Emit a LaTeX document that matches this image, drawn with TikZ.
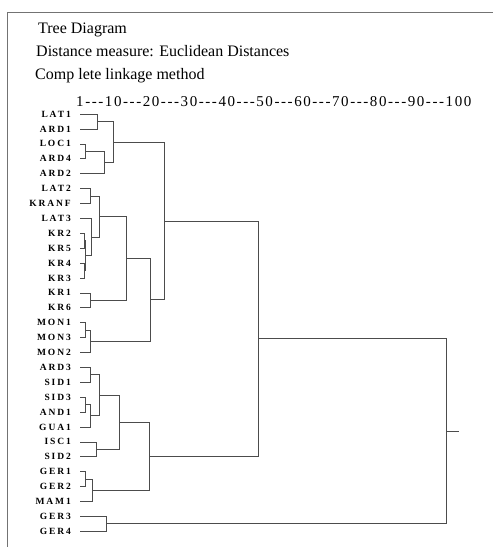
\documentclass[tikz,border=0pt]{standalone}
\usepackage{fontspec}
\setmainfont{Liberation Serif}
\newfontfamily\leaffont{Liberation Serif}[LetterSpace=20]
\newfontfamily\scalefont{Liberation Serif}[LetterSpace=10.5, Ligatures=TeXOff]
\usetikzlibrary{calc,positioning}
\tikzset{
    titletext/.style={
        anchor=base west,
        inner sep=0pt,
        font=\fontsize{16}{19}\selectfont
    },
    scaletext/.style={
        anchor=base west,
        inner sep=0pt,
        font=\scalefont\fontsize{15}{17}\selectfont
    },
    leaflabel/.style={
        inner sep=0pt,
        font=\leaffont\bfseries\fontsize{9.5}{11}\selectfont
    },
    branch/.style={
        draw=black!70,
        line width=0.6pt
    },
    framerule/.style={
        draw=black!55,
        line width=0.8pt
    }
}

\begin{document}
\begin{tikzpicture}[x=1pt, y=-1pt]
    \useasboundingbox (0,0) rectangle (493,547);

    % Frame
    \coordinate (frameTR) at (493,12);
    \coordinate (frameTL) at (7,12);
    \coordinate (frameBL) at (7,547);
    \draw[framerule] (frameTR) -- (frameTL) -- (frameBL);

    % Heading
    \node[titletext] (title)  at (38,33) {Tree Diagram};
    \node[titletext] (measure) at (36,56) {Distance measure: Euclidean Distances};
    \node[titletext] (method) at (35,79) {Comp lete linkage method};
    \node[scaletext] (scale)  at (76,106) {1---10---20---30---40---50---60---70---80---90---100};

    % Leaves
    \foreach \leaf/\txt [count=\i from 0] in {lat1/LAT1, ard1/ARD1, loc1/LOC1, ard4/ARD4, ard2/ARD2,
        lat2/LAT2, kranf/KRANF, lat3/LAT3, kr2/KR2, kr5/KR5, kr4/KR4, kr3/KR3, kr1/KR1, kr6/KR6,
        mon1/MON1, mon3/MON3, mon2/MON2, ard3/ARD3, sid1/SID1, sid3/SID3, and1/AND1, gua1/GUA1,
        isc1/ISC1, sid2/SID2, ger1/GER1, ger2/GER2, mam1/MAM1, ger3/GER3, ger4/GER4}
    {
        \coordinate (\leaf) at (80,114+14.9*\i);
        \node[leaflabel, left=9pt of \leaf] (\leaf-lbl) {\txt};
    }

    % Merges: name / distance / first child / second child
    \foreach \name/\px/\a/\b in {m1/97/lat1/ard1, m2/85/loc1/ard4, m3/104.3/m2/ard2, m4/113.3/m1/m3,
        m5/90.7/lat2/kranf, m6a/84/kr2/kr5, m6b/84/kr4/kr3, m6/85/m6a/m6b, m7/91.7/lat3/m6,
        m8/99.3/m5/m7, m9/90.7/kr1/kr6, m10/126.7/m8/m9, m11/85/mon1/mon3, m12/90.7/m11/mon2,
        m13/150.7/m10/m12, m14/164.3/m4/m13,
        m15/90.7/ard3/sid1, m16/85/sid3/and1, m17/90.7/m16/gua1, m18/99/m15/m17,
        m19/96/isc1/sid2, m20/119.3/m18/m19, m21/85/ger1/ger2, m22/92.7/m21/mam1,
        m23/149/m20/m22, m24/258.3/m14/m23, m25/106/ger3/ger4, m26/446.7/m24/m25}
    {
        \coordinate (mid) at ($(\a)!0.5!(\b)$);
        \coordinate (\name) at (\px,0 |- mid);
        \draw[branch] (\a) -| (\name);
        \draw[branch] (\b) -| (\name);
    }

    % Root stub
    \coordinate (root) at ($(m26)+(12.6,0)$);
    \draw[branch] (m26) -- (root);
\end{tikzpicture}
\end{document}
